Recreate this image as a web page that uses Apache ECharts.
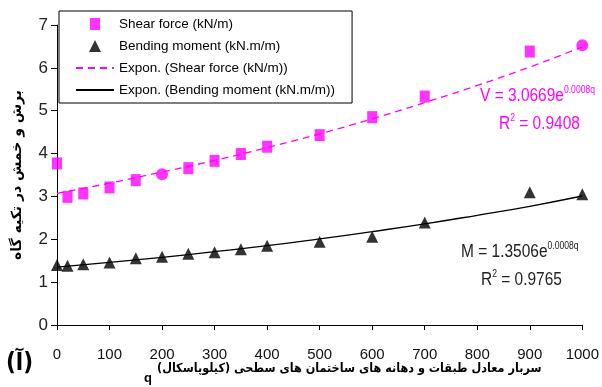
<!DOCTYPE html>
<html><head><meta charset="utf-8">
<script src="https://cdn.jsdelivr.net/npm/echarts@6/dist/echarts.min.js"></script>
<style>html,body{margin:0;padding:0;background:#fff}#c{width:602px;height:387px}</style>
</head><body><div id="c"></div>
<script>
const qShear = [0, 20, 50, 100, 150, 200, 250, 300, 350, 400, 500, 600, 700, 900, 1000];
const shear = [3.77, 2.99, 3.07, 3.21, 3.38, 3.52, 3.66, 3.83, 3.99, 4.16, 4.43, 4.85, 5.33, 6.38, 6.53];
const qBend = [0, 20, 50, 100, 150, 200, 250, 300, 350, 400, 500, 600, 700, 900, 1000];
const bending = [1.40, 1.38, 1.42, 1.46, 1.56, 1.59, 1.66, 1.70, 1.77, 1.85, 1.94, 2.06, 2.39, 3.10, 3.05];
const qTrend = [0, 100, 200, 300, 400, 500, 600, 700, 800, 900, 1000];
const shearTrend = [3.07, 3.31, 3.57, 3.84, 4.14, 4.46, 4.81, 5.19, 5.59, 6.02, 6.49];
const bendTrend = [1.35, 1.46, 1.58, 1.71, 1.85, 2.01, 2.18, 2.36, 2.56, 2.77, 3.01];
const xTicks = [0, 100, 200, 300, 400, 500, 600, 700, 800, 900, 1000];
const yTicks = [0, 1, 2, 3, 4, 5, 6, 7];
const circleShearQ = [200, 1000];

const names = ['Shear force (kN/m)', 'Bending moment (kN.m/m)', 'Expon. (Shear force (kN/m))', 'Expon. (Bending moment (kN.m/m))'];
const FONT = '"Liberation Sans", Arial, sans-serif';
const MAG = '#ff00ff';
const CLEAR = 'rgba(0,0,0,0)';

const chart = echarts.init(document.getElementById('c'), null, {renderer: 'canvas'});
const zip = (a, b) => a.map((v, i) => [v, b[i]]);

function eqText(x, y, main, sup, color) {
  return {type: 'text', x: x, y: y, scaleX: 0.86, z: 10, style: {
    text: '{a|' + main + '}{s|' + sup + '}', fill: color,
    rich: {a: {fontFamily: FONT, fontSize: 18, fill: color, lineHeight: 20},
           s: {fontFamily: FONT, fontSize: 10, fill: color, padding: [0, 0, 12, 0], lineHeight: 20}}}};
}
function r2Text(x, y, val, color) {
  return {type: 'text', x: x, y: y, scaleX: 0.86, z: 10, style: {
    text: '{a|R}{s|2}{a| = ' + val + '}', fill: color,
    rich: {a: {fontFamily: FONT, fontSize: 18, fill: color, lineHeight: 20},
           s: {fontFamily: FONT, fontSize: 10, fill: color, padding: [0, 0, 12, 0], lineHeight: 20}}}};
}

chart.setOption({
  animation: false,
  backgroundColor: '#fff',
  grid: {left: 57, right: 19, top: 25, bottom: 62},
  legend: {
    orient: 'vertical', left: 59, top: 11,
    padding: [6, 17, 6, 16],
    itemWidth: 38, itemHeight: 12, itemGap: 8,
    borderColor: '#000', borderWidth: 1, backgroundColor: '#fff',
    textStyle: {fontFamily: FONT, fontSize: 13.5, color: '#000'},
    data: [
      {name: names[0], icon: 'path://M0,0h10v12h-10z'},
      {name: names[1], icon: 'path://M6,0L12,12L0,12Z'},
      {name: names[2]},
      {name: names[3]}
    ]
  },
  xAxis: {
    type: 'value', min: xTicks[0], max: xTicks[xTicks.length - 1], interval: 100,
    axisLine: {lineStyle: {color: '#000', width: 1}},
    axisTick: {show: true, length: 5, lineStyle: {color: '#000'}},
    splitLine: {show: false},
    axisLabel: {margin: 22, fontFamily: FONT, fontSize: 15, color: '#111', formatter: v => String(v)}
  },
  yAxis: {
    type: 'value', min: yTicks[0], max: yTicks[yTicks.length - 1], interval: 1,
    axisLine: {show: true, lineStyle: {color: '#000', width: 1}},
    axisTick: {show: true, length: 6, lineStyle: {color: '#000'}},
    splitLine: {show: false},
    axisLabel: {margin: 9, fontFamily: FONT, fontSize: 17, color: '#222'},
    name: 'برش و خمش در تکیه گاه', nameLocation: 'middle', nameRotate: 90, nameGap: 33,
    nameTextStyle: {fontFamily: '"DejaVu Sans", sans-serif', fontSize: 14, fontWeight: 'bold', color: '#000'}
  },
  series: [
    {name: names[2], type: 'line', data: zip(qTrend, shearTrend), smooth: true, symbol: 'none', z: 2,
     lineStyle: {color: MAG, width: 1.3, type: [7, 5]}, itemStyle: {color: CLEAR, opacity: 0}},
    {name: names[3], type: 'line', data: zip(qTrend, bendTrend), smooth: true, symbol: 'none', z: 2,
     lineStyle: {color: '#000', width: 1.3}, itemStyle: {color: CLEAR, opacity: 0}},
    {name: names[0], type: 'scatter', z: 5, symbol: 'rect', symbolSize: [10, 12], itemStyle: {color: MAG},
     data: qShear.map((q, i) => circleShearQ.includes(q) ? {value: [q, shear[i]], symbol: 'circle', symbolSize: 12} : [q, shear[i]])},
    {name: names[1], type: 'scatter', z: 5, symbol: 'triangle', symbolSize: [12, 12], itemStyle: {color: '#000'},
     data: zip(qBend, bending)}
  ],
  graphic: [
    eqText(480, 86, 'V = 3.0669e', '0.0008q', MAG),
    r2Text(499, 114, '0.9408', MAG),
    eqText(461, 242, 'M = 1.3506e', '0.0008q', '#222'),
    r2Text(481, 270, '0.9765', '#222'),
    {type: 'text', x: 157, y: 362, style: {
      text: 'سربار معادل طبقات و دهانه های ساختمان های سطحی (کیلوپاسکال)', fill: '#000',
      font: 'bold 12.5px "DejaVu Sans Condensed", "DejaVu Sans", sans-serif'}},
    {type: 'text', x: 144, y: 372, style: {text: 'q', fill: '#000', font: 'bold 13px "Liberation Sans", sans-serif'}},
    {type: 'text', x: 6, y: 352, style: {text: '(آ)', fill: '#000', font: 'bold 24px "DejaVu Sans Condensed", "DejaVu Sans", sans-serif'}}
  ]
});
</script></body></html>
